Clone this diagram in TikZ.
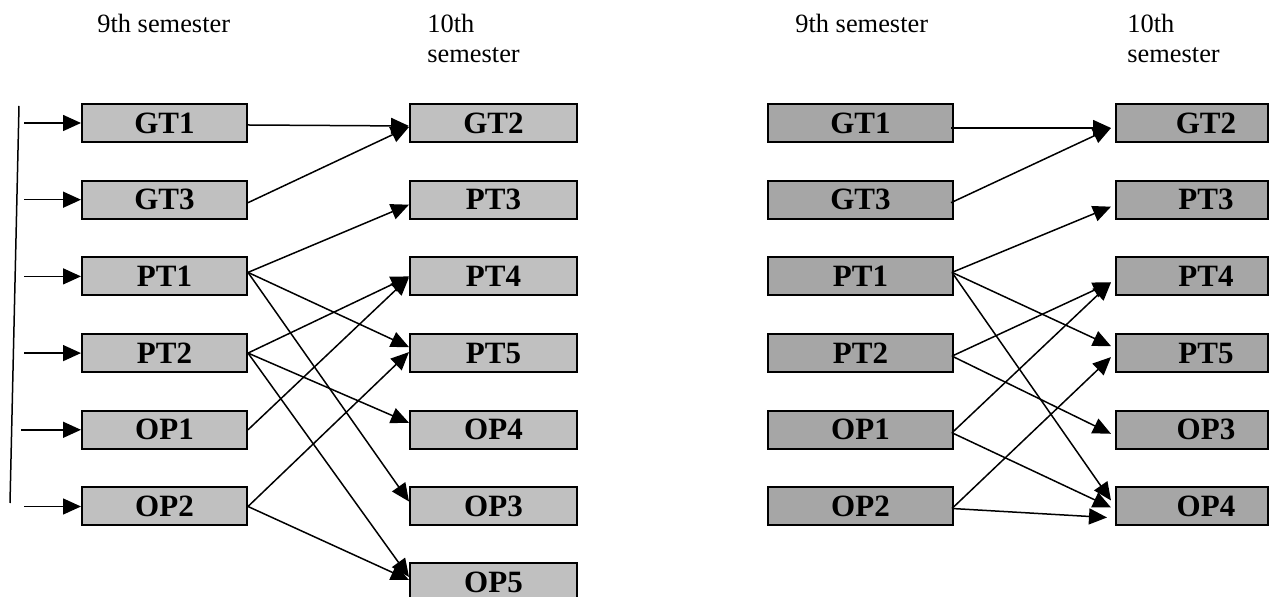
\documentclass[tikz,border=0pt]{standalone}
\usepackage{fontspec}
\setmainfont{Liberation Serif}
\usetikzlibrary{arrows.meta}
\definecolor{boxlight}{HTML}{C0C0C0}
\definecolor{boxdark}{HTML}{A6A6A6}
\begin{document}
\begin{tikzpicture}[x=0.5pt,y=-0.5pt,
  box/.style={draw, line width=1pt, inner sep=0pt, minimum height=19pt,
    font=\fontsize{15.5}{18}\selectfont\bfseries},
  lbox/.style={box, fill=boxlight},
  dbox/.style={box, fill=boxdark},
  hdr/.style={anchor=base west, align=left, inner sep=0pt,
    font=\fontsize{13.2}{15}\selectfont},
  ed/.style={-{Triangle[length=9pt,width=8pt]}, line width=0.75pt},
  ln/.style={line width=0.75pt}]
\useasboundingbox (0,0) rectangle (1270,597);
\clip (0,0) rectangle (1270,597);

% ---------------- headers ----------------
\node[hdr] (hL9) at (97,33) {9th semester};
\node[hdr] (hL10) at (427,63) {10th\\semester};
\node[hdr] (hR9) at (795,33) {9th semester};
\node[hdr] (hR10) at (1127,63) {10th\\semester};

% ---------------- left diagram ----------------
\node[lbox, minimum width=82.5pt] (LGT1) at (164.5,123) {GT1};
\node[lbox, minimum width=82.5pt] (LGT3) at (164.5,199.7) {GT3};
\node[lbox, minimum width=82.5pt] (LPT1) at (164.5,276.4) {PT1};
\node[lbox, minimum width=82.5pt] (LPT2) at (164.5,353.1) {PT2};
\node[lbox, minimum width=82.5pt] (LOP1) at (164.5,429.8) {OP1};
\node[lbox, minimum width=82.5pt] (LOP2) at (164.5,506.5) {OP2};

\node[lbox, minimum width=83.5pt] (LGT2) at (493.5,123) {GT2};
\node[lbox, minimum width=83.5pt] (LPT3) at (493.5,199.7) {PT3};
\node[lbox, minimum width=83.5pt] (LPT4) at (493.5,276.4) {PT4};
\node[lbox, minimum width=83.5pt] (LPT5) at (493.5,353.1) {PT5};
\node[lbox, minimum width=83.5pt] (LOP4) at (493.5,429.8) {OP4};
\node[lbox, minimum width=83.5pt] (LOP3) at (493.5,506.5) {OP3};
\node[lbox, minimum width=83.5pt] (LOP5) at (493.5,582) {OP5};

% left bracket line and entry arrows
\coordinate (vtop) at (19,106);
\coordinate (vbot) at (10,503);
\draw[ln] (vtop) -- (vbot);
\coordinate (s1) at (24,123);
\coordinate (s2) at (24,199.7);
\coordinate (s3) at (24,276.4);
\coordinate (s4) at (24,353.1);
\coordinate (s5) at (21,429.8);
\coordinate (s6) at (24,506.5);
\draw[ed] (s1) -- (LGT1.west);
\draw[ed] (s2) -- (LGT3.west);
\draw[ed] (s3) -- (LPT1.west);
\draw[ed] (s4) -- (LPT2.west);
\draw[ed] (s5) -- (LOP1.west);
\draw[ed] (s6) -- (LOP2.west);

% connections (left)
\draw[ed] ([yshift=-1pt]LGT1.east) -- ([yshift=-1.5pt]LGT2.west);
\draw[ed] ([yshift=-1.5pt]LGT3.east) -- ([yshift=-2pt]LGT2.west);
\draw[ed] ([yshift=2pt]LPT1.east) -- ([yshift=-2.5pt]LPT3.west);
\draw[ed] ([yshift=2pt]LPT1.east) -- ([yshift=3pt]LPT5.west);
\draw[ed] ([yshift=2pt]LPT1.east) -- ([yshift=2.5pt]LOP3.west);
\draw[ed] (LPT2.east) -- (LPT4.west);
\draw[ed] (LPT2.east) -- ([yshift=3.5pt]LOP4.west);
\draw[ed] (LPT2.east) -- ([yshift=2.5pt]LOP5.west);
\draw[ed] (LOP1.east) -- ([yshift=-0.5pt]LPT4.west);
\draw[ed] (LOP2.east) -- ([yshift=0.5pt]LPT5.west);
\draw[ed] (LOP2.east) -- ([yshift=1pt]LOP5.west);

% ---------------- right diagram ----------------
\node[dbox, minimum width=92.5pt] (RGT1) at (860.5,123) {GT1};
\node[dbox, minimum width=92.5pt] (RGT3) at (860.5,199.7) {GT3};
\node[dbox, minimum width=92.5pt] (RPT1) at (860.5,276.4) {PT1};
\node[dbox, minimum width=92.5pt] (RPT2) at (860.5,353.1) {PT2};
\node[dbox, minimum width=92.5pt] (ROP1) at (860.5,429.8) {OP1};
\node[dbox, minimum width=92.5pt] (ROP2) at (860.5,506.5) {OP2};

\node[dbox, minimum width=76pt] (RGT2) at (1192,123) {\hspace*{14pt}GT2};
\node[dbox, minimum width=76pt] (RPT3) at (1192,199.7) {\hspace*{14pt}PT3};
\node[dbox, minimum width=76pt] (RPT4) at (1192,276.4) {\hspace*{14pt}PT4};
\node[dbox, minimum width=76pt] (RPT5) at (1192,353.1) {\hspace*{14pt}PT5};
\node[dbox, minimum width=76pt] (ROP3) at (1192,429.8) {\hspace*{14pt}OP3};
\node[dbox, minimum width=76pt] (ROP4) at (1192,506.5) {\hspace*{14pt}OP4};

% connections (right)
\draw[ed] ([xshift=-1.5pt,yshift=-2.5pt]RGT1.east) -- ([xshift=-2pt,yshift=-2.5pt]RGT2.west);
\draw[ed] ([xshift=-1.5pt,yshift=-1.5pt]RGT3.east) -- ([xshift=-2pt,yshift=-2.5pt]RGT2.west);
\draw[ed] ([xshift=-1pt,yshift=2pt]RPT1.east) -- ([xshift=-2pt,yshift=-3.5pt]RPT3.west);
\draw[ed] ([xshift=-1pt,yshift=2pt]RPT1.east) -- ([xshift=-2pt,yshift=3.5pt]RPT5.west);
\draw[ed] ([xshift=-1pt,yshift=2pt]RPT1.east) -- ([xshift=-2pt,yshift=3pt]ROP4.west);
\draw[ed] ([xshift=-1pt,yshift=-1.5pt]RPT2.east) -- ([xshift=-2pt,yshift=-3pt]RPT4.west);
\draw[ed] ([xshift=-1pt,yshift=-1.5pt]RPT2.east) -- ([xshift=-2pt,yshift=-2pt]ROP3.west);
\draw[ed] ([xshift=-1pt,yshift=-1.5pt]ROP1.east) -- ([xshift=-2pt,yshift=-3pt]RPT4.west);
\draw[ed] ([xshift=-1pt,yshift=-1.5pt]ROP1.east) -- ([xshift=-2pt,yshift=-0.5pt]ROP4.west);
\draw[ed] ([xshift=-1pt,yshift=-1pt]ROP2.east) -- ([xshift=-2pt,yshift=-2pt]RPT5.west);
\draw[ed] ([xshift=-1pt,yshift=-1pt]ROP2.east) -- ([xshift=-4pt,yshift=-5.5pt]ROP4.west);
\end{tikzpicture}
\end{document}
